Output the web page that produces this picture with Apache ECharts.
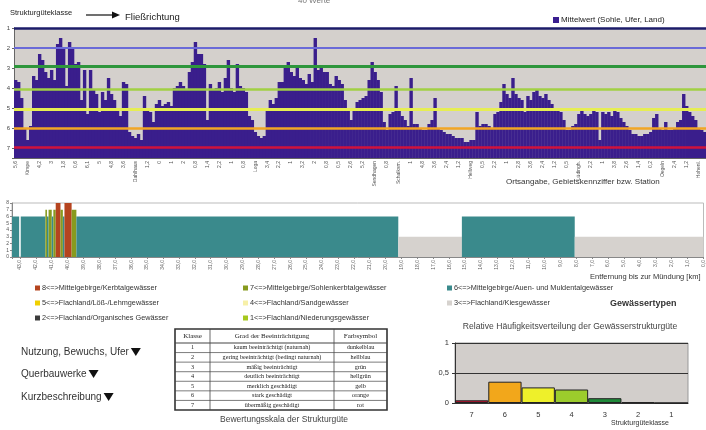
<!DOCTYPE html>
<html>
<head>
<meta charset="utf-8">
<script src="https://cdn.jsdelivr.net/npm/echarts@6/dist/echarts.min.js"></script>
<style>
  html, body { margin: 0; padding: 0; background: #fff; }
  #chart { width: 706px; height: 430px; }
</style>
</head>
<body>
<div id="chart"></div>
<script>
// Strukturgüte-Mittelwert je Abschnitt (Sohle, Ufer, Land), 1 = naturnah ... 7 = übermäßig geschädigt
const profile = [
  3.6,3.7,4.5,6.0,6.6,5.9,3.4,3.6,2.3,2.6,
  3.2,3.5,3.1,3.6,1.8,1.5,2.0,3.9,1.7,2.0,
  2.8,2.7,4.6,3.1,5.3,3.1,4.1,4.3,5.2,4.2,
  4.6,3.5,4.3,4.6,5.0,5.4,3.7,3.8,6.2,6.4,
  6.5,6.3,6.6,4.4,5.1,5.2,5.7,4.8,4.6,4.9,
  4.8,4.7,4.9,4.0,3.9,3.7,3.9,4.1,3.2,2.7,
  1.7,2.3,2.3,2.8,5.6,3.8,4.1,4.0,3.7,4.2,
  3.5,2.6,4.0,4.2,2.8,3.9,4.0,4.2,5.4,5.6,
  6.2,6.4,6.5,6.4,5.1,4.6,4.8,4.5,3.7,3.7,
  2.9,2.7,3.2,3.4,3.0,3.5,3.6,3.8,3.3,3.7,
  1.5,3.1,2.9,3.2,3.2,3.8,3.9,3.4,3.6,3.8,
  4.6,5.0,5.6,5.0,4.7,4.6,4.5,4.4,3.6,2.7,
  3.2,3.6,4.2,5.7,6.1,5.3,5.2,3.9,5.0,5.4,
  5.6,5.9,3.5,5.8,5.8,6.0,6.1,6.1,5.8,5.6,
  4.5,6.0,6.1,6.2,6.3,6.3,6.4,6.5,6.5,6.5,
  6.7,6.7,6.6,6.6,5.2,5.9,5.8,5.8,5.9,6.0,
  5.3,5.2,4.7,3.8,4.3,4.5,3.5,4.3,4.5,4.6,
  5.2,4.4,4.6,4.2,4.1,4.4,4.5,4.3,4.6,4.8,
  5.1,5.1,5.2,5.6,6.1,6.1,5.9,5.8,5.3,5.1,
  5.3,5.4,5.3,5.1,5.2,6.6,5.2,5.3,5.2,5.4,
  5.1,5.2,5.5,5.7,5.9,6.1,6.3,6.3,6.4,6.4,
  6.3,6.3,6.2,5.5,5.3,6.0,6.1,5.7,6.1,6.1,
  6.0,5.7,5.6,4.3,4.9,5.2,5.4,5.6,6.0,6.1,6.2
];
// one station label every 4 sections
const stationLabels = ['5,6','Kirspe','4,2','3','1,8','0,6','6,1','5','4,8','3,6','Dahlhaus','1,2','0','1',
  '2','0,8','1,4','2,2','1','0,8','Loga','3,4','2,2','1','3,2','2','0,8','0,5','2,6','5,2','Sendhagen',
  '0,8','Schalksm.','1','4,8','3,6','2,4','1,2','Hellweg','0,5','2,2','1','2,8','3,6','2,4','1,2','0,5',
  'Lüdingh.','2,2','1','3,8','2,6','1,4','0,2','Oegeln','2,4','1,2','Hohenl.'];
const profileBase = 7.5;

// class boundary lines in the profile
const classLines  = [1.0, 2.0, 2.9, 4.05, 5.07, 6.0, 6.95];
const lineColors  = ['#1c1c6a', '#6a6ad8', '#2e963c', '#a2d044', '#e6ee52', '#f2a624', '#d0123c'];
const lineWidths  = [2.5, 2, 3, 2.5, 3, 2.5, 2.5];

// Gewässertyp segments: [km from, km to, type]
const typeSegments = [
  [43.5, 43.05, 6], [42.95, 41.4, 6], [41.4, 41.3, 7], [41.3, 41.2, 6], [41.2, 41.0, 7],
  [41.0, 40.9, 6], [40.9, 40.75, 7], [40.75, 40.45, 8], [40.45, 40.3, 7], [40.3, 40.2, 6],
  [40.2, 39.75, 8], [39.75, 39.45, 7], [39.45, 19.2, 6], [19.2, 15.2, 3], [15.2, 8.1, 6], [8.1, 0, 3]
];
const typeCodes  = [8, 7, 6, 5, 4, 3, 2, 1];
const typeLabels = [
  '8<=>Mittelgebirge/Kerbtalgewässer', '7<=>Mittelgebirge/Sohlenkerbtalgewässer',
  '6<=>Mittelgebirge/Auen- und Muldentalgewässer', '5<=>Flachland/Löß-/Lehmgewässer',
  '4<=>Flachland/Sandgewässer', '3<=>Flachland/Kiesgewässer',
  '2<=>Flachland/Organisches Gewässer', '1<=>Flachland/Niederungsgewässer'
];
const typeColors = {8: '#b5441f', 7: '#879b1f', 6: '#3a8a8c', 5: '#f0d000', 4: '#f7f0a8', 3: '#d6d2ce', 2: '#3c3c3c', 1: '#a6c81e'};

// Häufigkeitsverteilung
const classCats  = ['7', '6', '5', '4', '3', '2', '1'];
const classFreq  = [0.045, 0.355, 0.26, 0.225, 0.08, 0.012, 0];
const classColors = ['#c8102e', '#f2a71b', '#eef02a', '#9ccc2c', '#1f8a3a', '#5a5ad0', '#1a1a6e'];

// Bewertungsskala
const tableHead = ['Klasse', 'Grad der Beeinträchtigung', 'Farbsymbol'];
const tableRows = [
  ['1', 'kaum beeinträchtigt (naturnah)', 'dunkelblau'],
  ['2', 'gering beeinträchtigt (bedingt naturnah)', 'hellblau'],
  ['3', 'mäßig beeinträchtigt', 'grün'],
  ['4', 'deutlich beeinträchtigt', 'hellgrün'],
  ['5', 'merklich geschädigt', 'gelb'],
  ['6', 'stark geschädigt', 'orange'],
  ['7', 'übermäßig geschädigt', 'rot']
];

// menu entries with a triangle behind
const menuItems = ['Nutzung, Bewuchs, Ufer', 'Querbauwerke', 'Kurzbeschreibung'];

const sans = 'Liberation Sans, Arial, sans-serif';
const serif = 'Liberation Serif, Times New Roman, serif';

function txt(x, y, text, size, opts) {
  return {
    type: 'text', x: x, y: y, silent: true,
    style: Object.assign({ text: text, fontSize: size, fontFamily: sans, fill: '#333', verticalAlign: 'middle' }, opts || {})
  };
}

const graphics = [];
// header
graphics.push(txt(10, 13, 'Strukturgüteklasse', 7.5, { fill: '#222' }));
graphics.push({ type: 'line', silent: true, shape: { x1: 86, y1: 15, x2: 113, y2: 15 }, style: { stroke: '#111', lineWidth: 1.2 } });
graphics.push({ type: 'polygon', silent: true, shape: { points: [[112, 11.5], [120, 15], [112, 18.5]] }, style: { fill: '#111' } });
graphics.push(txt(125, 17, 'Fließrichtung', 9.5, { fill: '#222' }));
graphics.push(txt(298, 1, '40 Werte', 8, { fill: '#777' }));
graphics.push({ type: 'rect', silent: true, shape: { x: 553, y: 17, width: 6, height: 6 }, style: { fill: '#3a1e90' } });
graphics.push(txt(561, 20, 'Mittelwert (Sohle, Ufer, Land)', 8, { fill: '#222' }));
graphics.push(txt(506, 182, 'Ortsangabe, Gebietskennziffer bzw. Station', 8, { fill: '#333' }));
graphics.push(txt(590, 277, 'Entfernung bis zur Mündung [km]', 7.5, { fill: '#333' }));

// type legend
const legCols = [35, 243, 447];
const legRows = [288, 303, 318];
typeCodes.forEach(function (code, i) {
  const x = legCols[i % 3], y = legRows[Math.floor(i / 3)];
  graphics.push({ type: 'rect', silent: true, shape: { x: x, y: y - 2.5, width: 5, height: 5 }, style: { fill: typeColors[code] } });
  graphics.push(txt(x + 7, y, typeLabels[i], 7.3, { fill: '#333' }));
});
graphics.push(txt(610, 304, 'Gewässertypen', 9, { fill: '#333', fontWeight: 'bold' }));

// left menu texts
const menuY = [352, 374, 397];
menuItems.forEach(function (label, i) {
  const t = txt(21, menuY[i], label, 10, { fill: '#333' });
  const w = echarts.format.getTextRect ? echarts.format.getTextRect(label, '10px ' + sans).width : label.length * 5.4;
  graphics.push(t);
  const x0 = 21 + w + 2;
  graphics.push({ type: 'polygon', silent: true, shape: { points: [[x0, menuY[i] - 4], [x0 + 10, menuY[i] - 4], [x0 + 5, menuY[i] + 4]] }, style: { fill: '#111' } });
});

// table
const colX = [175, 210, 334, 387];
const tTop = 329, headH = 14, rowH = 9.57;
const tBottom = tTop + headH + rowH * tableRows.length;
graphics.push({ type: 'rect', silent: true, shape: { x: colX[0], y: tTop, width: colX[3] - colX[0], height: tBottom - tTop }, style: { fill: '#fff', stroke: '#333', lineWidth: 1.6 } });
[1, 2].forEach(function (c) {
  graphics.push({ type: 'line', silent: true, shape: { x1: colX[c], y1: tTop, x2: colX[c], y2: tBottom }, style: { stroke: '#444', lineWidth: 0.8 } });
});
for (let r = 0; r < tableRows.length; r++) {
  const y = tTop + headH + rowH * r;
  graphics.push({ type: 'line', silent: true, shape: { x1: colX[0], y1: y, x2: colX[3], y2: y }, style: { stroke: '#444', lineWidth: r === 0 ? 1.2 : 0.7 } });
}
tableHead.forEach(function (h, c) {
  graphics.push(txt((colX[c] + colX[c + 1]) / 2, tTop + headH / 2, h, 7, { fontFamily: serif, fill: '#222', align: 'center' }));
});
tableRows.forEach(function (row, r) {
  const y = tTop + headH + rowH * r + rowH / 2;
  row.forEach(function (cell, c) {
    graphics.push(txt((colX[c] + colX[c + 1]) / 2, y, cell, 6.2, { fontFamily: serif, fill: '#222', align: 'center' }));
  });
});
graphics.push(txt(284, 420, 'Bewertungsskala der Strukturgüte', 8.5, { fill: '#444', align: 'center' }));

// frequency chart texts
graphics.push(txt(570, 327, 'Relative Häufigkeitsverteilung der Gewässerstrukturgüte', 8.6, { fill: '#444', align: 'center' }));
graphics.push(txt(640, 423, 'Strukturgüteklasse', 7, { fill: '#333', align: 'center' }));

const chart = echarts.init(document.getElementById('chart'), null, { renderer: 'canvas' });

chart.setOption({
  animation: false,
  backgroundColor: '#fff',
  grid: [
    { left: 14, top: 28, right: 0, height: 130, show: true, backgroundColor: '#d4d0cc', borderWidth: 0 },
    { left: 12, top: 203, right: 0, height: 54, show: true, backgroundColor: '#fff', borderColor: '#bbb', borderWidth: 1 },
    { left: 455, top: 343, width: 233, height: 60, show: true, backgroundColor: '#d2cecb', borderColor: '#999', borderWidth: 1 }
  ],
  xAxis: [
    {
      gridIndex: 0, type: 'category', data: profile.map(function (v, i) { return String(i); }),
      axisLine: { onZero: false, lineStyle: { color: '#666' } },
      axisTick: { show: false },
      axisLabel: {
        interval: 3, rotate: 90, fontSize: 5, color: '#555', margin: 3, fontFamily: sans,
        formatter: function (v, idx) { return stationLabels[idx / 4] || ''; }
      }
    },
    {
      gridIndex: 1, type: 'value', min: 0, max: 43.5, interval: 1, inverse: true,
      axisLine: { onZero: false, lineStyle: { color: '#888' } },
      axisTick: { show: true, length: 2, lineStyle: { color: '#888' } },
      splitLine: { show: false },
      axisLabel: {
        rotate: 90, fontSize: 5, color: '#666', margin: 3, fontFamily: sans,
        formatter: function (v) { return v % 1 === 0 ? v.toFixed(1).replace('.', ',') : ''; }
      }
    },
    {
      gridIndex: 2, type: 'category', data: classCats,
      axisLine: { onZero: false, lineStyle: { color: '#333' } },
      axisTick: { show: false },
      axisLabel: { fontSize: 7.5, color: '#333', margin: 8, fontFamily: sans }
    }
  ],
  yAxis: [
    {
      gridIndex: 0, type: 'value', inverse: true, min: 1, max: profileBase, interval: 1,
      axisLine: { show: true, onZero: false, lineStyle: { color: '#666' } },
      axisTick: { show: true, length: 2, lineStyle: { color: '#666' } },
      splitLine: { show: false },
      axisLabel: {
        fontSize: 6, color: '#444', margin: 4, fontFamily: sans,
        formatter: function (v) { return Number.isInteger(v) ? String(v) : ''; }
      }
    },
    {
      gridIndex: 1, type: 'value', min: 0, max: 8, interval: 1,
      axisLine: { show: true, onZero: false, lineStyle: { color: '#888' } },
      axisTick: { show: true, length: 2 },
      splitLine: { show: false },
      axisLabel: { fontSize: 5, color: '#555', margin: 3, fontFamily: sans }
    },
    {
      gridIndex: 2, type: 'value', min: 0, max: 1, interval: 0.5,
      axisLine: { show: true, onZero: false, lineStyle: { color: '#333' } },
      axisTick: { show: true, length: 3, lineStyle: { color: '#333' } },
      splitLine: { show: true, lineStyle: { color: '#333', width: 1 } },
      axisLabel: {
        fontSize: 7.5, color: '#333', margin: 6, fontFamily: sans,
        formatter: function (v) { return String(v).replace('.', ','); }
      }
    }
  ],
  series: [
    {
      name: 'Mittelwert (Sohle, Ufer, Land)',
      type: 'custom', xAxisIndex: 0, yAxisIndex: 0, silent: true,
      data: profile.map(function (v, i) { return [i, v]; }),
      encode: { x: 0, y: 1 },
      renderItem: function (params, api) {
        const top = api.coord([api.value(0), api.value(1)]);
        const base = api.coord([api.value(0), profileBase]);
        const w = api.size([1, 0])[0];
        return {
          type: 'rect',
          shape: { x: top[0] - w / 2, y: top[1], width: w + 0.4, height: base[1] - top[1] },
          style: { fill: '#3a1e8c' }
        };
      },
      markLine: {
        silent: true, symbol: ['none', 'none'], label: { show: false },
        data: classLines.map(function (v, i) {
          return { yAxis: v, lineStyle: { color: lineColors[i], width: lineWidths[i], type: 'solid' } };
        })
      }
    },
    {
      name: 'Gewässertyp',
      type: 'custom', xAxisIndex: 1, yAxisIndex: 1, silent: true,
      data: typeSegments,
      encode: { x: [0, 1], y: 2 },
      renderItem: function (params, api) {
        const p1 = api.coord([api.value(0), api.value(2)]);
        const p2 = api.coord([api.value(1), 0]);
        return {
          type: 'rect',
          shape: { x: Math.min(p1[0], p2[0]), y: p1[1], width: Math.abs(p2[0] - p1[0]), height: p2[1] - p1[1] },
          style: { fill: typeColors[api.value(2)] }
        };
      }
    },
    {
      name: 'Häufigkeit',
      type: 'bar', xAxisIndex: 2, yAxisIndex: 2, silent: true,
      barCategoryGap: 0,
      data: classFreq.map(function (v, i) {
        return { value: v, itemStyle: { color: classColors[i], borderColor: '#222', borderWidth: 1 } };
      })
    }
  ],
  graphic: graphics
});
</script>
</body>
</html>
